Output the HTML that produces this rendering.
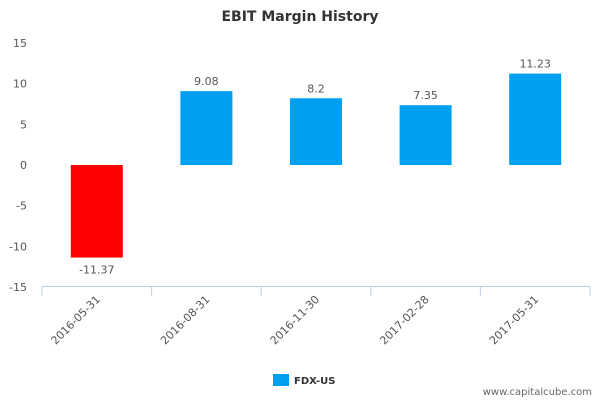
<!DOCTYPE html>
<html><head><meta charset="utf-8"><style>
body{margin:0;background:#fff;}
svg{display:block;font-family:"DejaVu Sans","Liberation Sans",sans-serif;}
</style></head><body>
<svg id="c" width="600" height="400">
<text x="300" y="21" text-anchor="middle" font-size="14" font-weight="bold" fill="#333">EBIT Margin History</text>
<g id="yaxis"></g>
<g id="bars"></g>
<g id="xaxis"></g>
<g>
<rect x="273" y="374" width="16" height="12" fill="#00a0f0"></rect>
<text x="294" y="384" font-size="10" font-weight="bold" fill="#333">FDX-US</text>
</g>
<text x="592" y="395" text-anchor="end" font-size="10" fill="#666">www.capitalcube.com</text>
</svg>
<script>
const categories=["2016-05-31","2016-08-31","2016-11-30","2017-02-28","2017-05-31"];
const values=[-11.37,9.08,8.2,7.35,11.23];
const valueLabels=["-11.37","9.08","8.2","7.35","11.23"];
const yTicks=[15,10,5,0,-5,-10,-15];
const NS="http://www.w3.org/2000/svg";
const L=42,R=590,Y0=165,PX=40.7/5;
const y=v=>Y0-v*PX;
const band=(R-L)/categories.length;
const xc=i=>L+band*(i+0.5);
function mk(t,a,p,txt){const e=document.createElementNS(NS,t);for(const k in a)e.setAttribute(k,a[k]);if(txt!==undefined)e.textContent=txt;p.appendChild(e);return e;}
const ya=document.getElementById('yaxis'),bg=document.getElementById('bars'),xa=document.getElementById('xaxis');
yTicks.forEach(t=>{const e=mk('text',{x:27,y:y(t)+4,'text-anchor':'end','font-size':11,fill:'#555'},ya,String(t));

});
values.forEach((v,i)=>{const top=Math.min(y(v),y(0)),h=Math.abs(y(v)-y(0));
const r=mk('rect',{x:xc(i)-26,y:top,width:52,height:h,fill:v<0?'#ff0000':'#00a0f0'},bg);


const ly=v<0?y(v)+16:y(v)-6;
const t=mk('text',{x:xc(i),y:ly,'text-anchor':'middle','font-size':11,fill:'#555'},bg,valueLabels[i]);

});
const ax=mk('line',{x1:L,y1:286.5,x2:R,y2:286.5,stroke:'#c0d0e0'},xa);


for(let i=0;i<=categories.length;i++){const x=L+band*i;const tk=mk('line',{x1:x,y1:286,x2:x,y2:296,stroke:'#c0d0e0'},xa);

}
categories.forEach((c,i)=>{const x=xc(i)+4,yy=300;
const t=mk('text',{x:x,y:yy,'text-anchor':'end','font-size':11,fill:'#555',transform:`rotate(-45 ${x} ${yy})`},xa,c);

});
</script>
</body></html>
